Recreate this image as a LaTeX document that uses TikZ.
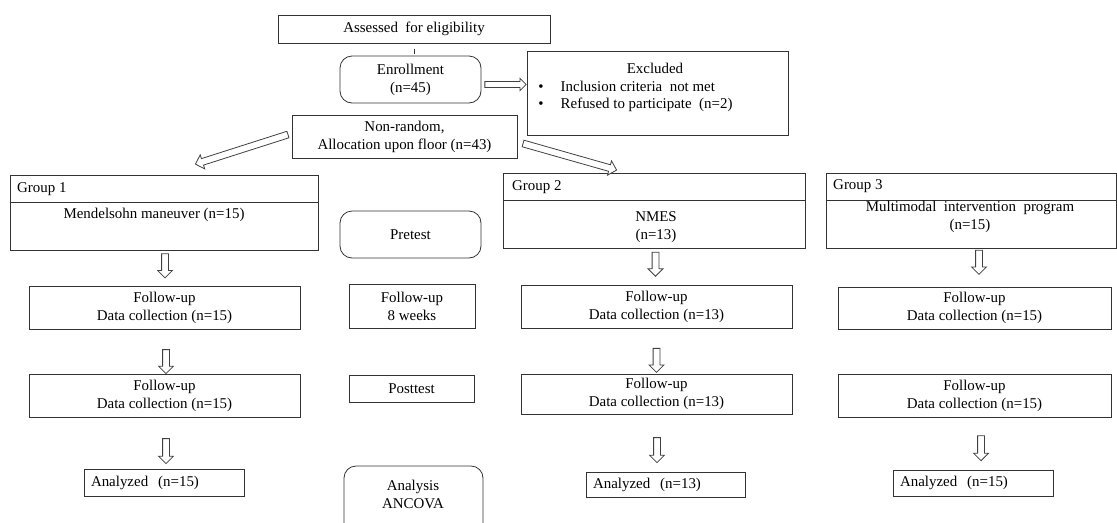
\documentclass[tikz,border=0pt]{standalone}
\usepackage{fontspec}
\setmainfont{Liberation Serif}
\usetikzlibrary{shapes.arrows,calc}
\begin{document}
\begin{tikzpicture}[x=0.75pt,y=-0.75pt,
  every node/.style={font=\fontsize{11.2}{13.5}\selectfont, text=black, align=center},
  sz/.style 2 args={minimum width=#1*0.75pt, minimum height=#2*0.75pt},
  box/.style={draw=black!80, line width=0.6pt, inner sep=0pt, align=center},
  rbox/.style={box, rounded corners=9pt},
  divider/.style={draw=black!80, line width=0.6pt},
  leftbox/.style={box, align=left, text width=#1*0.75pt-10.5pt, inner xsep=5.25pt},
  harrow/.style={single arrow, draw=black!75, fill=white, line width=0.6pt,
    inner xsep=0pt, inner ysep=2.25pt, single arrow head extend=3pt,
    sloped, allow upside down},
  harrowsmall/.style={harrow, inner ysep=1.9pt, single arrow head extend=2.4pt}]
\useasboundingbox (0,0) rectangle (1117,522);

% top
\node[box, sz={272}{28}] (assess) at (414,29) {Assessed\ \ for eligibility};
\node[rbox, sz={141}{47}] (enroll) at (410.5,79.5) {Enrollment\\(n=45)};
\draw[divider, shorten <=4pt, shorten >=1.5pt] (assess.south) -- (assess.south |- enroll.north);

\node[box, sz={261}{84}] (excl) at (657.5,93) {};
\node (exclt) at (655,68) {Excluded};
\node[anchor=base] (b1) at (541,91) {•};
\node[anchor=base west] (e1) at (556,91) {Inclusion criteria\ \ not met};
\node[anchor=base] (b2) at (541,108) {•};
\node[anchor=base west] (e2) at (556,108) {Refused to participate\ \ (n=2)};

\node[box, sz={225}{43}] (nonrand) at (404.5,136.5) {Non-random,\\Allocation upon floor (n=43)};

% groups
\node[box, sz={308}{75}] (g1) at (164,212.5) {};
\draw[divider] (g1.west |- 0,202) -- (g1.east |- 0,202);
\node[anchor=west] (g1t) at (12.5,189) {Group 1};
\node (g1b) at (154,215) {Mendelsohn maneuver (n=15)};

\node[rbox, sz={141}{47}] (pre) at (410.5,234.5) {Pretest};

\node[box, sz={302}{75}] (g2) at (654,210.5) {};
\draw[divider] (g2.west |- 0,200) -- (g2.east |- 0,200);
\node[anchor=west] (g2t) at (507.5,187) {Group 2};
\node (g2b) at (656,227) {NMES\\(n=13)};

\node[box, sz={290}{75}] (g3) at (971,210.5) {};
\draw[divider] (g3.west |- 0,200) -- (g3.east |- 0,200);
\node[anchor=west] (g3t) at (828.5,186) {Group 3};
\node (g3b) at (970,217) {Multimodal\ \ intervention\ \ program\\(n=15)};

% follow-up row 1
\node[box, sz={271}{43}] (f1a) at (164.5,307.5) {Follow-up\\Data collection (n=15)};
\node[box, sz={126}{44}] (fm) at (412,306) {Follow-up\\8 weeks};
\node[box, sz={271}{43}] (f2a) at (656.5,306.5) {Follow-up\\Data collection (n=13)};
\node[box, sz={273}{42}] (f3a) at (974.5,308) {Follow-up\\Data collection (n=15)};

% follow-up row 2
\node[box, sz={271}{43}] (f1b) at (164.5,395.5) {Follow-up\\Data collection (n=15)};
\node[box, sz={125}{27}] (post) at (411.5,388.5) {Posttest};
\node[box, sz={271}{40}] (f2b) at (656.5,394) {Follow-up\\Data collection (n=13)};
\node[box, sz={273}{43}] (f3b) at (974.5,395.5) {Follow-up\\Data collection (n=15)};

% analyzed
\node[leftbox=160, sz={160}{27}] (an1) at (164,482.5) {Analyzed\ \ (n=15)};
\node[leftbox=159, sz={159}{25}] (an2) at (665.5,484.5) {Analyzed\ \ (n=13)};
\node[leftbox=160, sz={160}{26}] (an3) at (973,483) {Analyzed\ \ (n=15)};

\node[rbox, sz={139}{72}] (ana) at (413.5,502) {};
\node (anat) at (413,494) {Analysis\\ANCOVA};

% hollow arrows
\path let \p1=($(enroll.east)+(2,5)$), \p2=($(excl.west)+(-2,-8.5)$),
  \n1={veclen(\x2-\x1,\y2-\y1)} in
  (\p1) -- (\p2) node[harrowsmall, midway, minimum height=\n1] {};
\path let \p1=($(nonrand.west)+(-2,-2.5)$), \p2=($(g1.north)+(33,-11)$),
  \n1={veclen(\x2-\x1,\y2-\y1)} in
  (\p1) -- (\p2) node[harrow, midway, minimum height=\n1] {};
\path let \p1=($(nonrand.east)+(4,6.5)$), \p2=($(g2.north)+(-39,-3)$),
  \n1={veclen(\x2-\x1,\y2-\y1)} in
  (\p1) -- (\p2) node[harrow, midway, minimum height=\n1] {};

% vertical arrows
\path ($(g1.south)+(1,0)$) -- ($(f1a.north)+(0.5,0)$) node[harrow, pos=0.39, minimum height=24*0.75pt] {};
\path ($(g2.south)+(1.5,0)$) -- ($(f2a.north)+(-1,0)$) node[harrow, pos=0.39, minimum height=24*0.75pt] {};
\path ($(g3.south)+(8,0)$) -- ($(f3a.north)+(4.5,0)$) node[harrow, pos=0.32, minimum height=24*0.75pt] {};

\path ($(f1a.south)+(1.5,0)$) -- ($(f1b.north)+(1.5,0)$) node[harrow, pos=0.69, minimum height=24*0.75pt] {};
\path ($(f2a.south)+(0,0)$) -- ($(f2b.north)+(0,0)$) node[harrow, pos=0.67, minimum height=24*0.75pt] {};

\path ($(f1b.south)+(1.5,0)$) -- ($(an1.north)+(2,0)$) node[harrow, pos=0.625, minimum height=25*0.75pt] {};
\path ($(f2b.south)+(0.5,0)$) -- ($(an2.north)+(-8.5,0)$) node[harrow, pos=0.595, minimum height=25*0.75pt] {};
\path ($(f3b.south)+(6.5,0)$) -- ($(an3.north)+(8,0)$) node[harrow, pos=0.557, minimum height=25*0.75pt] {};
\end{tikzpicture}
\end{document}
